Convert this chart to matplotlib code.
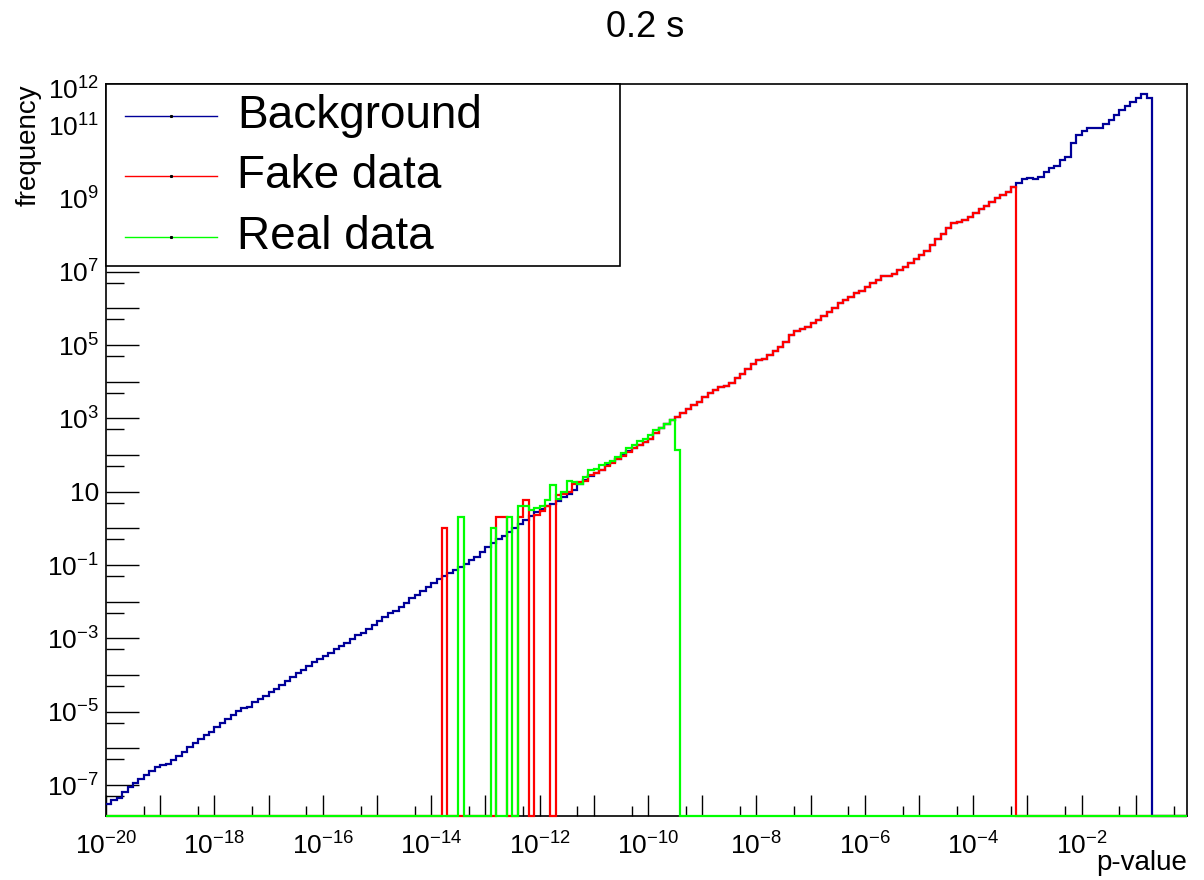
import matplotlib
matplotlib.use('Agg')
import matplotlib.pyplot as plt
import numpy as np
from matplotlib.patches import Rectangle
from matplotlib.lines import Line2D
from matplotlib.ticker import FixedLocator, FuncFormatter, NullFormatter

plt.rcParams['font.family'] = ['Liberation Sans', 'DejaVu Sans']
plt.rcParams['mathtext.fontset'] = 'custom'
plt.rcParams['mathtext.rm'] = 'Liberation Sans'
plt.rcParams['mathtext.it'] = 'Liberation Sans:italic'
plt.rcParams['mathtext.bf'] = 'Liberation Sans:bold'

# histogram binning in log10(p): 10 bins per decade
LOG_P_MIN, LOG_P_MAX, N_BINS = -20, 0, 200

# log10(frequency) per bin
# background: bins 0..192 (empty after that)
background_log = [
    -7.52, -7.41, -7.34, -7.20, -7.06, -6.95, -6.84, -6.72, -6.61, -6.52,
    -6.46, -6.42, -6.32, -6.21, -6.09, -5.97, -5.86, -5.75, -5.64, -5.54,
    -5.43, -5.31, -5.20, -5.09, -4.97, -4.90, -4.86, -4.74, -4.65, -4.56,
    -4.47, -4.38, -4.27, -4.15, -4.04, -3.95, -3.86, -3.74, -3.65, -3.56,
    -3.47, -3.39, -3.30, -3.21, -3.13, -3.03, -2.92, -2.85, -2.75, -2.64,
    -2.52, -2.41, -2.32, -2.25, -2.14, -2.03, -1.91, -1.82, -1.70, -1.59,
    -1.50, -1.39, -1.30, -1.21, -1.14, -1.06, -0.97, -0.86, -0.77, -0.64,
    -0.52, -0.41, -0.29, -0.20, -0.10, 0.00, 0.12, 0.23, 0.33, 0.44,
    0.54, 0.60, 0.66, 0.76, 0.86, 0.95, 1.04, 1.20, 1.33, 1.42,
    1.50, 1.59, 1.72, 1.80, 1.90, 2.00, 2.10, 2.18, 2.27, 2.36,
    2.45, 2.60, 2.73, 2.86, 2.97, 3.04, 3.15, 3.27, 3.36, 3.45,
    3.59, 3.68, 3.77, 3.85, 3.88, 3.97, 4.09, 4.20, 4.36, 4.48,
    4.59, 4.62, 4.73, 4.84, 4.95, 5.09, 5.27, 5.39, 5.43, 5.50,
    5.59, 5.68, 5.79, 5.91, 6.02, 6.14, 6.23, 6.32, 6.41, 6.48,
    6.59, 6.68, 6.77, 6.88, 6.88, 6.93, 7.04, 7.14, 7.24, 7.36,
    7.45, 7.56, 7.73, 7.88, 8.04, 8.18, 8.32, 8.36, 8.41, 8.50,
    8.59, 8.70, 8.79, 8.91, 9.00, 9.09, 9.18, 9.30, 9.41, 9.54,
    9.57, 9.52, 9.59, 9.73, 9.84, 9.88, 10.04, 10.14, 10.52, 10.73,
    10.84, 10.93, 10.93, 10.93, 11.04, 11.15, 11.27, 11.41, 11.52, 11.62,
    11.73, 11.84, 11.73,
]

# fake data: bins 62..101 (None = empty), then same as background up to bin 167
fake_start = 62
fake_log = [
    0.00, None, None, None, None, None, None, None, None, None,
    0.30, 0.30, None, None, 0.30, 0.78, None, 0.36, 0.48, 0.60,
    None, 0.90, 0.95, 1.00, 1.20, 1.26, 1.30, 1.45, 1.50, 1.60,
    1.70, 1.78, 1.90, 1.98, 2.08, 2.20, 2.28, 2.36, 2.45, 2.60,
]
fake_last_bin = 167

# real data: bins 65..105
real_start = 65
real_log = [
    0.30, None, None, None, None, None, 0.00, None, None, 0.30,
    None, 0.60, 0.60, 0.50, 0.55, 0.60, 0.78, 1.18, 0.80, 1.00,
    1.30, 1.27, 1.22, 1.40, 1.60, 1.62, 1.72, 1.78, 1.85, 1.95,
    2.05, 2.20, 2.28, 2.38, 2.45, 2.55, 2.68, 2.75, 2.85, 2.95,
    2.14,
]

XMIN, XMAX = 1e-20, 10 ** -0.06
YMIN, YMAX = 10 ** -7.845, 10 ** 12.12


def fill_bins(start, logs):
    arr = np.full(N_BINS, np.nan)
    arr[start:start + len(logs)] = [np.nan if v is None else v for v in logs]
    return arr


bkg = fill_bins(0, background_log)
fake = fill_bins(fake_start, fake_log)
n_low = fake_start + len(fake_log)
fake[n_low:fake_last_bin + 1] = bkg[n_low:fake_last_bin + 1]
real = fill_bins(real_start, real_log)

edges = np.minimum(np.logspace(LOG_P_MIN, LOG_P_MAX, N_BINS + 1), XMAX)

fig = plt.figure(figsize=(12.04, 8.8), dpi=100)
ax = fig.add_axes([0.088, 0.0727, 0.8976, 0.8318])

series = [('Background', bkg, '#000099'),
          ('Fake data', fake, '#ff0000'),
          ('Real data', real, '#00ff00')]

for name, logs, col in series:
    freq = np.where(np.isnan(logs), YMIN, 10 ** np.nan_to_num(logs))
    ax.stairs(freq, edges, baseline=None, color=col, lw=1.6, zorder=3, clip_on=False)

ax.set_xscale('log')
ax.set_yscale('log')
ax.set_xlim(XMIN, XMAX)
ax.set_ylim(YMIN, YMAX)


def exp_label(e):
    if e == 0:
        return '1'
    if e == 1:
        return '10'
    return r'$10^{%d}$' % e


ax.xaxis.set_major_locator(FixedLocator(10.0 ** np.arange(-20, 0)))
ax.xaxis.set_minor_locator(FixedLocator(5 * 10.0 ** np.arange(-20, 0)))
ax.xaxis.set_major_formatter(FuncFormatter(
    lambda v, pos: exp_label(int(round(np.log10(v)))) if int(round(np.log10(v))) % 2 == 0 else ''))
ax.xaxis.set_minor_formatter(NullFormatter())

ax.yaxis.set_major_locator(FixedLocator(10.0 ** np.arange(-7, 13)))
ax.yaxis.set_minor_locator(FixedLocator(5 * 10.0 ** np.arange(-8, 12)))


def y_fmt(v, pos):
    e = int(round(np.log10(v)))
    if e % 2 != 0 or e == 12:
        return exp_label(e)
    return ''


ax.yaxis.set_major_formatter(FuncFormatter(y_fmt))
ax.yaxis.set_minor_formatter(NullFormatter())

ax.tick_params(axis='x', which='major', direction='in', length=15, width=1.0,
               labelsize=19, pad=12, top=False)
ax.tick_params(axis='x', which='minor', direction='in', length=7, width=1.0, top=False)
ax.tick_params(axis='y', which='major', direction='in', length=24, width=1.0,
               labelsize=19, pad=5, right=False)
ax.tick_params(axis='y', which='minor', direction='in', length=13, width=1.0, right=False)

for sp in ax.spines.values():
    sp.set_linewidth(1.2)

# legend box, ROOT style
ax.add_patch(Rectangle((0, 0.7514), 0.4756, 0.2486, transform=ax.transAxes,
                       facecolor='white', edgecolor='black', lw=1.2, zorder=10, clip_on=False))
leg_y = [0.956, 0.874, 0.791]
for (name, _, col), y in zip(series, leg_y):
    ax.add_line(Line2D([0.0176, 0.1027], [y, y], transform=ax.transAxes,
                       color=col, lw=1.0, zorder=11))
    ax.add_line(Line2D([0.06], [y], transform=ax.transAxes, color='black',
                       marker='s', markersize=1.2, lw=0, zorder=12))
    ax.text(0.1212, y, name, transform=ax.transAxes, fontsize=33,
            va='center', ha='left', zorder=11)

fig.text(0.536, 0.969, '0.2 s', ha='center', va='center', fontsize=26)
fig.text(0.986, 0.019, 'p-value', ha='right', va='center', fontsize=20)
fig.text(0.024, 0.904, 'frequency', ha='center', va='top', rotation=90, fontsize=20)

fig.savefig('out.png', dpi=100)
plt.close(fig)
